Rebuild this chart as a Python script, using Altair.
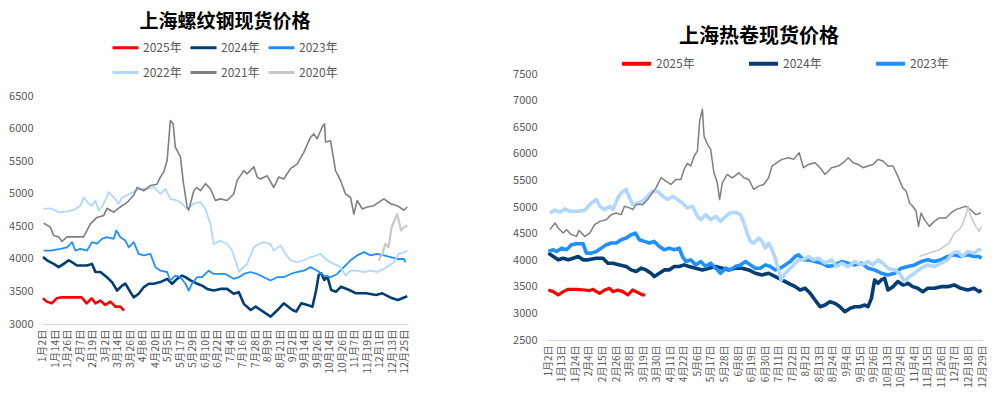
import altair as alt
import pandas as pd

FONT = "Noto Sans CJK SC"
YEARS = ["2025年", "2024年", "2023年", "2022年", "2021年", "2020年"]
COLORS = ["#ff0000", "#043c74", "#1e90ff", "#b0d8ff", "#7f7f7f", "#c8c8c8"]

LEFT_TITLE = "上海螺纹钢现货价格"
RIGHT_TITLE = "上海热卷现货价格"

LEFT_LABELS = ["1月2日", "1月14日", "1月26日", "2月7日", "2月19日", "3月2日", "3月14日", "3月26日",
               "4月8日", "4月20日", "5月5日", "5月17日", "5月29日", "6月10日", "6月22日", "7月4日",
               "7月16日", "7月28日", "8月9日", "8月21日", "9月2日", "9月14日", "9月26日", "10月14日",
               "10月26日", "11月7日", "11月19日", "12月1日", "12月13日", "12月25日"]
RIGHT_LABELS = ["1月2日", "1月13日", "1月24日", "2月4日", "2月15日", "2月26日", "3月8日", "3月19日",
                "3月30日", "4月11日", "4月22日", "5月6日", "5月17日", "5月28日", "6月8日", "6月19日",
                "6月30日", "7月11日", "7月22日", "8月2日", "8月13日", "8月24日", "9月4日", "9月15日",
                "9月26日", "10月13日", "10月24日", "11月4日", "11月15日", "11月26日", "12月7日",
                "12月18日", "12月29日"]

# ---------------- 上海螺纹钢 (t = position on the date axis, in label steps) ----------------
rebar_2025_t = [0, 0.3, 0.7, 1.1, 1.5, 3.1, 3.5, 3.9, 4.2, 4.6, 5.0, 5.4, 5.8, 6.2, 6.5]
rebar_2025_v = [3395, 3344, 3318, 3395, 3410, 3410, 3318, 3395, 3318, 3360, 3292, 3344, 3267, 3267, 3205]

rebar_2024_t = [0, 0.32, 0.86, 1.26, 1.66, 2.06, 2.33, 2.73, 3.53, 3.93, 4.2, 4.6, 5.13, 5.53, 5.94,
                6.34, 6.6, 7.01, 7.27, 7.67, 8.07, 8.48, 8.88, 9.41, 9.95, 10.35, 10.75, 11.15, 11.42,
                11.82, 12.35, 12.75, 13.16, 13.69, 14.22, 14.76, 15.29, 15.7, 16.1, 16.65, 17.05, 17.45,
                18.25, 18.8, 19.3, 20.0, 20.3, 20.7, 21.2, 21.6, 21.9, 22.1, 22.3, 22.55, 22.8, 23.1,
                23.5, 23.9, 24.55, 25.1, 25.9, 26.7, 27.2, 28.0, 28.45, 29.1, 29.2]
rebar_2024_v = [4030, 3980, 3925, 3875, 3925, 3980, 3950, 3900, 3900, 3925, 3800, 3800, 3720, 3645, 3515,
                3590, 3620, 3490, 3410, 3465, 3565, 3620, 3620, 3645, 3695, 3620, 3695, 3745, 3720,
                3670, 3620, 3590, 3540, 3515, 3540, 3540, 3465, 3490, 3310, 3215, 3267, 3215,
                3113, 3215, 3318, 3215, 3190, 3318, 3292, 3267, 3523, 3754, 3780, 3677, 3728, 3523,
                3497, 3574, 3523, 3472, 3472, 3446, 3472, 3395, 3369, 3420, 3430]

rebar_2023_t = [0.05, 0.59, 1.39, 1.93, 2.33, 2.59, 2.99, 3.53, 3.93, 4.33, 4.73, 5.13, 5.67, 5.88, 6.2,
                6.6, 6.87, 7.27, 7.67, 8.07, 8.61, 9.01, 9.41, 9.95, 10.21, 10.61, 11.02, 11.42, 11.68,
                11.95, 12.35, 12.75, 13.29, 13.69, 14.09, 14.63, 15.29, 15.7, 16.1, 16.63, 17.17, 17.7,
                18.24, 18.77, 19.3, 19.84, 20.37, 20.91, 21.44, 21.98, 22.51, 23.05, 23.58, 24.12,
                24.65, 25.19, 25.72, 26.26, 26.79, 27.33, 27.86, 28.4, 28.93, 29.06]
rebar_2023_v = [4130, 4130, 4155, 4180, 4260, 4130, 4155, 4130, 4260, 4235, 4310, 4335, 4310, 4440, 4335,
                4285, 4180, 4260, 4080, 4055, 4080, 3875, 3820, 3800, 3670, 3745, 3720, 3620, 3515,
                3620, 3720, 3720, 3820, 3770, 3770, 3770, 3695, 3720, 3770, 3800, 3770, 3720,
                3670, 3720, 3720, 3770, 3800, 3820, 3875, 3820, 3745, 3720, 3770, 3875,
                3980, 4055, 4105, 4055, 4080, 4055, 4030, 4000, 4000, 3950]

rebar_2022_t = [0.05, 0.59, 1.26, 1.93, 2.46, 2.99, 3.26, 3.66, 3.93, 4.2, 4.47, 4.87, 5.27, 5.67, 6.07,
                6.34, 6.74, 7.27, 7.81, 8.34, 8.88, 9.41, 9.81, 10.21, 10.75, 11.15, 11.55, 12.09, 12.62,
                13.02, 13.42, 13.69, 14.22, 14.76, 15.16, 15.43, 15.7, 15.96, 16.36, 16.9, 17.3, 17.7,
                18.24, 18.5, 19.04, 19.44, 19.84, 20.37, 20.91, 21.44, 21.84, 22.25, 22.78, 23.32,
                23.85, 24.25, 24.65, 25.19, 25.72, 26.26, 26.79, 27.33, 27.73, 28.13, 28.53, 28.93, 29.2]
rebar_2022_v = [4770, 4780, 4720, 4730, 4755, 4820, 4950, 4850, 4820, 4900, 4745, 4850, 5030, 4950, 4850,
                4950, 4980, 5030, 5080, 5080, 5105, 5000, 5080, 4925, 4900, 4850, 4770, 4850, 4875,
                4770, 4540, 4230, 4280, 4230, 4130, 3980, 3800, 3850, 3925, 4180, 4230, 4260,
                4230, 4130, 4210, 4080, 3980, 3950, 3980, 4030, 4050, 4080, 3980, 3925,
                3875, 3745, 3820, 3820, 3800, 3820, 3800, 3850, 3900, 3950, 4080, 4100, 4130]

rebar_2021_t = [0.05, 0.59, 0.86, 1.26, 1.52, 1.93, 3.26, 3.8, 4.33, 4.87, 5.13, 5.67, 6.2, 6.74, 7.27,
                7.54, 8.07, 8.61, 9.14, 9.41, 9.68, 9.95, 10.21, 10.43, 10.61, 11.02, 11.23, 11.55,
                11.68, 12.09, 12.35, 12.62, 13.02, 13.42, 13.82, 14.22, 14.76, 15.29, 15.56, 16.1,
                16.36, 16.9, 17.17, 17.43, 17.97, 18.5, 18.9, 19.3, 19.84, 20.37, 20.91, 21.44, 21.71,
                21.98, 22.38, 22.57, 22.65, 23.05, 23.45, 23.85, 24.25, 24.65, 24.92, 25.19, 25.59,
                25.99, 26.52, 27.33, 27.86, 28.4, 28.93, 29.2]
rebar_2021_v = [4550, 4490, 4360, 4340, 4270, 4340, 4340, 4540, 4640, 4670, 4780, 4720, 4800, 4870, 4980,
                5100, 5050, 5130, 5150, 5260, 5340, 5515, 6130, 6080, 5720, 5570, 5210, 4800,
                4750, 5050, 5100, 5050, 5160, 5080, 4900, 4925, 4900, 5000, 5210, 5360,
                5310, 5420, 5260, 5230, 5280, 5100, 5260, 5230, 5390, 5460, 5640, 5870, 5925,
                5850, 6030, 6080, 5800, 5820, 5360, 5210, 5000, 4950, 4690, 4900, 4770,
                4800, 4820, 4925, 4850, 4820, 4750, 4800]

rebar_2020_t = [26.9, 27.2, 27.45, 27.7, 27.95, 28.4, 28.7, 28.95, 29.2]
rebar_2020_v = [3977, 4080, 4233, 4182, 4490, 4695, 4438, 4490, 4515]

# ---------------- 上海热卷 ----------------
coil_2025_t = [0, 0.37, 0.73, 1.1, 1.47, 2.08, 2.69, 3.06, 3.3, 3.55, 3.79, 4.16, 4.52, 4.77, 5.13,
               5.5, 5.87, 6.23, 6.48, 6.97, 7.16]
coil_2025_v = [3440, 3409, 3346, 3409, 3453, 3453, 3440, 3428, 3453, 3409, 3378, 3440, 3472, 3409, 3440,
               3409, 3346, 3440, 3409, 3346, 3346]

coil_2024_t = [0, 0.37, 0.73, 1.1, 1.47, 1.83, 2.2, 2.57, 2.93, 3.55, 4.03, 4.4, 4.77, 5.26, 5.75,
               6.11, 6.48, 6.85, 7.21, 7.58, 7.82, 8.19, 8.56, 8.92, 9.29, 9.66, 10.02, 10.39, 10.88,
               11.37, 11.86, 12.35, 12.84, 13.33, 13.81, 14.3, 14.79, 15.28, 15.77, 16.26, 16.75,
               17.24, 17.73, 18.22, 18.58, 18.95, 19.32, 19.68, 20.05, 20.42, 20.78, 21.15, 21.52,
               21.88, 22.25, 22.62, 22.98, 23.35, 23.59, 23.84, 24.08, 24.33, 24.57, 24.82, 25.06,
               25.43, 25.79, 26.16, 26.53, 26.89, 27.26, 27.63, 28.0, 28.48, 28.97, 29.46, 29.95,
               30.44, 30.93, 31.42, 31.78, 31.96]
coil_2024_v = [4133, 4070, 4007, 4038, 4007, 4038, 4070, 4007, 4007, 4038, 4038, 3944, 3944, 3912, 3881,
               3818, 3787, 3850, 3818, 3755, 3692, 3755, 3818, 3818, 3881, 3881, 3912, 3881, 3850,
               3818, 3850, 3881, 3850, 3818, 3850, 3850, 3818, 3755, 3724, 3755, 3692,
               3629, 3566, 3503, 3440, 3472, 3378, 3252, 3126, 3157, 3220, 3189, 3126,
               3031, 3094, 3126, 3126, 3157, 3126, 3283, 3629, 3566, 3629, 3660, 3440,
               3503, 3598, 3535, 3566, 3503, 3472, 3409, 3472, 3472, 3503, 3503, 3535,
               3472, 3440, 3472, 3409, 3440]

coil_2023_t = [0, 0.37, 0.61, 0.98, 1.34, 1.71, 2.08, 2.57, 2.81, 3.18, 3.55, 3.91, 4.28, 4.65, 5.01,
               5.38, 5.75, 6.11, 6.43, 6.72, 7.09, 7.46, 7.82, 8.19, 8.56, 8.92, 9.29, 9.66, 9.9,
               10.15, 10.51, 10.88, 11.25, 11.61, 11.98, 12.35, 12.71, 13.08, 13.45, 13.81, 14.18,
               14.55, 14.91, 15.28, 15.65, 16.01, 16.38, 16.75, 17.11, 17.48, 17.85, 18.22, 18.46,
               18.83, 19.19, 19.68, 20.17, 20.66, 21.15, 21.64, 22.13, 22.62, 23.1, 23.59, 24.08,
               24.57, 25.06, 25.55, 26.04, 26.53, 27.02, 27.51, 28.0, 28.48, 28.97, 29.46, 29.95,
               30.44, 30.93, 31.42, 31.78, 31.96]
coil_2023_v = [4164, 4196, 4164, 4227, 4196, 4290, 4309, 4309, 4133, 4133, 4164, 4227, 4290, 4322, 4322,
               4385, 4416, 4479, 4510, 4385, 4353, 4322, 4353, 4259, 4196, 4227, 4196, 4227, 4070,
               3975, 4007, 3912, 3975, 3881, 3944, 3850, 3755, 3850, 3818, 3881, 3912,
               3975, 3912, 3850, 3850, 3912, 3881, 3818, 3850, 3912, 3975, 4070, 4101,
               4007, 4007, 3975, 3944, 3881, 3912, 3975, 3944, 3912, 3944, 3850, 3818,
               3755, 3724, 3755, 3850, 3881, 3912, 3975, 4007, 3975, 4007, 4070, 4101,
               4070, 4101, 4070, 4070, 4038]

coil_2022_t = [0.12, 0.49, 0.86, 1.22, 1.59, 2.2, 2.69, 3.18, 3.55, 3.79, 4.16, 4.52, 4.77, 5.13, 5.38,
               5.75, 5.99, 6.23, 6.6, 6.97, 7.33, 7.7, 8.07, 8.44, 8.8, 9.17, 9.54, 9.9, 10.27, 10.64,
               11.0, 11.25, 11.61, 11.98, 12.35, 12.71, 13.08, 13.45, 13.81, 14.18, 14.43, 14.67,
               14.91, 15.16, 15.53, 15.77, 16.01, 16.26, 16.5, 16.75, 16.99, 17.19, 17.48, 17.73,
               18.09, 18.46, 18.83, 19.19, 19.56, 19.93, 20.42, 20.9, 21.27, 21.64, 22.13, 22.62,
               23.1, 23.59, 23.96, 24.33, 24.69, 25.06, 25.55, 25.92, 26.28, 26.65, 27.02, 27.51,
               28.0, 28.48, 28.97, 29.46, 29.83, 30.2, 30.56, 30.93, 31.42, 31.78, 31.96]
coil_2022_v = [4888, 4940, 4900, 4964, 4920, 4920, 4940, 5077, 5140, 5014, 4950, 5014, 4950, 5171, 5266,
               5329, 5171, 5045, 5077, 5108, 5203, 5297, 5297, 5203, 5140, 5203, 5140, 5077, 4983, 5014,
               4825, 4762, 4857, 4762, 4825, 4730, 4825, 4888, 4900, 4857, 4700, 4510,
               4353, 4322, 4416, 4353, 4227, 4322, 4196, 4038, 3818, 3629, 3755, 3818,
               3912, 4007, 4007, 4070, 4007, 4038, 3944, 4007, 3881, 3944, 3881, 3975,
               3912, 3975, 3912, 4007, 3944, 3850, 3818, 3755, 3598, 3692, 3755, 3850,
               3912, 3881, 3944, 4007, 4133, 4164, 4070, 4164, 4133, 4196, 4208]

coil_2021_t = [0.12, 0.49, 0.73, 1.1, 1.34, 1.71, 2.08, 2.27, 2.69, 3.06, 3.42, 3.79, 4.28, 4.65, 5.01,
               5.38, 5.62, 5.99, 6.23, 6.48, 6.97, 7.33, 7.58, 7.95, 8.31, 8.68, 9.05, 9.41, 9.78,
               10.02, 10.27, 10.51, 10.76, 11.0, 11.17, 11.37, 11.49, 11.74, 11.98, 12.22, 12.47,
               12.64, 12.84, 13.2, 13.57, 14.06, 14.43, 14.79, 15.16, 15.53, 15.89, 16.26, 16.5,
               16.87, 17.24, 17.73, 18.09, 18.51, 18.83, 19.19, 19.68, 20.05, 20.42, 20.9, 21.39,
               21.76, 22.13, 22.49, 22.86, 23.23, 23.59, 23.96, 24.33, 24.69, 25.06, 25.43, 25.79,
               26.16, 26.41, 26.65, 26.89, 27.14, 27.31, 27.51, 27.75, 28.12, 28.48, 28.85, 29.34,
               29.71, 30.07, 30.44, 30.81, 31.17, 31.54, 31.91]
coil_2021_v = [4574, 4700, 4605, 4510, 4574, 4480, 4448, 4560, 4448, 4510, 4668, 4730, 4760, 4857, 4888,
               4857, 5014, 4983, 4950, 5045, 5045, 5140, 5234, 5360, 5550, 5486, 5423, 5518, 5518,
               5706, 5820, 5770, 5958, 6052, 6619, 6840, 6336, 6178, 6084, 5643, 5455,
               5140, 5455, 5612, 5549, 5643, 5549, 5518, 5329, 5392, 5423, 5549, 5770,
               5832, 5895, 5927, 5895, 6021, 5738, 5800, 5832, 5738, 5612, 5738, 5770,
               5832, 5927, 5832, 5800, 5738, 5770, 5800, 5895, 5864, 5770, 5770, 5580,
               5360, 5297, 5077, 5014, 4920, 4636, 4888, 4762, 4636, 4730, 4794, 4794,
               4888, 4950, 4983, 5014, 4950, 4857, 4888]

coil_2020_t = [27.38, 27.75, 28.12, 28.48, 28.85, 29.22, 29.58, 29.95, 30.32, 30.56, 30.81, 30.98,
               31.17, 31.54, 31.78, 31.96]
coil_2020_v = [4070, 4101, 4133, 4164, 4196, 4259, 4322, 4510, 4574, 4668, 4857, 5014,
               4825, 4636, 4542, 4636]

LEFT_SERIES = [(rebar_2025_t, rebar_2025_v), (rebar_2024_t, rebar_2024_v), (rebar_2023_t, rebar_2023_v),
               (rebar_2022_t, rebar_2022_v), (rebar_2021_t, rebar_2021_v), (rebar_2020_t, rebar_2020_v)]
RIGHT_SERIES = [(coil_2025_t, coil_2025_v), (coil_2024_t, coil_2024_v), (coil_2023_t, coil_2023_v),
                (coil_2022_t, coil_2022_v), (coil_2021_t, coil_2021_v), (coil_2020_t, coil_2020_v)]

LEFT_WIDTHS = [2.6, 2.6, 1.8, 1.8, 1.6, 2.2]
RIGHT_WIDTHS = [3.2, 3.6, 3.6, 3.6, 1.5, 1.5]

LABEL_COLOR = "#595959"


def panel(series, widths, labels, xdomain, ydomain, yticks, width, height, title, title_x, title_y,
          title_size, legend_values, legend_x, legend_y, legend_cols, col_pad, sym_size, sym_w,
          label_size, pad_y=None):
    label_expr = "[" + ",".join("'%s'" % s for s in labels) + "][datum.value]"
    xenc = alt.X("t:Q", scale=alt.Scale(domain=xdomain, nice=False, zero=False),
                 axis=alt.Axis(values=list(range(len(labels))), labelExpr=label_expr, labelAngle=-90,
                               labelFont=FONT, labelFontSize=label_size, labelColor=LABEL_COLOR,
                               ticks=False, grid=False, domainColor="#d9d9d9", domainWidth=1,
                               labelPadding=5, labelOverlap=False, labelFlush=False, title=None))
    yenc = alt.Y("v:Q", scale=alt.Scale(domain=ydomain, nice=False, zero=False),
                 axis=alt.Axis(values=yticks, format="d", domain=False, ticks=False, grid=False,
                               labelFont=FONT, labelFontSize=11, labelColor=LABEL_COLOR,
                               labelPadding=9, title=None))
    cenc = alt.Color("year:N", scale=alt.Scale(domain=YEARS, range=COLORS),
                     legend=alt.Legend(values=legend_values, orient="none", legendX=legend_x,
                                       legendY=legend_y, direction="horizontal", columns=legend_cols,
                                       symbolType="stroke", symbolSize=sym_size, symbolStrokeWidth=sym_w,
                                       labelFont=FONT, labelFontSize=12, labelColor=LABEL_COLOR,
                                       columnPadding=col_pad, rowPadding=4, labelOffset=3,
                                       padding=0, title=None))
    layers = []
    if pad_y is not None:
        layers.append(alt.Chart(pd.DataFrame({"p": [0]})).mark_rule(strokeOpacity=0).encode(
            x=alt.value(0), y=alt.value(pad_y), y2=alt.value(pad_y + 5)))
    layers.append(alt.Chart(pd.DataFrame({"title": [title]})).mark_text(
        font=FONT, fontSize=title_size, fontWeight="bold", color="#000000", align="center",
        baseline="middle").encode(text="title:N", x=alt.value(title_x), y=alt.value(title_y)))
    for (ts, vs), year, w in zip(series, YEARS, widths):
        df = pd.DataFrame({"t": ts, "v": vs, "year": year})
        layers.append(alt.Chart(df).mark_line(strokeWidth=w, strokeJoin="round").encode(
            x=xenc, y=yenc, color=cenc))
    return alt.layer(*layers).properties(width=width, height=height)


# left plot area reaches up to the same top as the right one; its axis stops at 6500
left = panel(LEFT_SERIES, LEFT_WIDTHS, LEFT_LABELS, [-0.08, 29.26], [3000, 6846],
             list(range(3000, 6501, 500)), 366, 250, LEFT_TITLE, 183, -52, 19,
             YEARS, 69, -41, 3, 2, 676, 3, 10.5, pad_y=-66)
right = panel(RIGHT_SERIES, RIGHT_WIDTHS, RIGHT_LABELS, [-0.17, 32.0], [2500, 7500],
              list(range(2500, 7501, 500)), 436, 266, RIGHT_TITLE, 213, -37, 20,
              YEARS[:3], 74, -27, 3, 46, 841, 4, 10)

chart = alt.hconcat(left, right, spacing=101).resolve_scale(
    x="independent", y="independent", color="independent").resolve_legend(
    color="independent").properties(padding=0).configure_view(stroke=None)

chart.save("out.html", embed_options={"renderer": "svg", "actions": False})
